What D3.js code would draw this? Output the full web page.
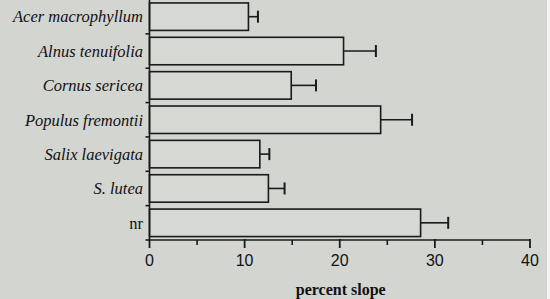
<!DOCTYPE html>
<html><head><meta charset="utf-8">
<script src="https://cdn.jsdelivr.net/npm/d3@7"></script>
<style>html,body{margin:0;padding:0;background:#d3d5d1;}svg{display:block;}</style>
</head><body>
<script>
const categories = ["Acer macrophyllum","Alnus tenuifolia","Cornus sericea","Populus fremontii","Salix laevigata","S. lutea","nr"];
const italic = [true,true,true,true,true,true,false];
const values = [10.4, 20.4, 14.9, 24.3, 11.6, 12.5, 28.5];
const errors = [1.0, 3.4, 2.6, 3.3, 1.0, 1.7, 2.9];
const xTicks = [0,10,20,30,40];
const minorTicks = [5,15,25,35];
const xLabel = "percent slope";

const W=550,H=299;
const svg=d3.select("body").append("svg").attr("width",W).attr("height",H);
svg.append("rect").attr("width",W).attr("height",H).attr("fill","#d3d5d1");
svg.append("rect").attr("x",547).attr("width",3).attr("height",H).attr("fill","#f4f4f4");

const x=d3.scaleLinear().domain([0,40]).range([149.5,530]);
const y=d3.scaleBand().domain(categories).range([-0.5,240]).paddingInner(0.2).paddingOuter(0.1);
const stroke="#1a1a1a";

// bars
svg.selectAll(".bar").data(categories).join("rect")
  .attr("x",x(0)).attr("y",d=>y(d)).attr("height",y.bandwidth())
  .attr("width",(d,i)=>x(values[i])-x(0))
  .attr("fill","#d6d8d4").attr("stroke",stroke).attr("stroke-width",1.6);
// error bars
const eb=svg.selectAll(".eb").data(categories).join("g");
eb.append("line").attr("x1",(d,i)=>x(values[i])).attr("x2",(d,i)=>x(values[i]+errors[i]))
  .attr("y1",d=>y(d)+y.bandwidth()/2).attr("y2",d=>y(d)+y.bandwidth()/2)
  .attr("stroke",stroke).attr("stroke-width",1.6);
eb.append("line").attr("x1",(d,i)=>x(values[i]+errors[i])).attr("x2",(d,i)=>x(values[i]+errors[i]))
  .attr("y1",d=>y(d)+y.bandwidth()/2-6).attr("y2",d=>y(d)+y.bandwidth()/2+6)
  .attr("stroke",stroke).attr("stroke-width",2);

// y axis line + boundary ticks
svg.append("line").attr("x1",x(0)).attr("x2",x(0)).attr("y1",0).attr("y2",240).attr("stroke",stroke).attr("stroke-width",1.6);
const step=y.step();
const bounds=categories.map((d,i)=>i).concat([categories.length]).slice(1);
svg.selectAll(".yt").data(bounds).join("line")
  .attr("x1",x(0)-4).attr("x2",x(0))
  .attr("y1",i=>y(categories[0])-y.step()*y.paddingInner()/2+i*step)
  .attr("y2",i=>y(categories[0])-y.step()*y.paddingInner()/2+i*step)
  .attr("stroke",stroke).attr("stroke-width",1.6);

// category labels
svg.selectAll(".lab").data(categories).join("text")
  .attr("x",143).attr("y",d=>y(d)+y.bandwidth()/2).attr("dy","0.35em")
  .attr("text-anchor","end").attr("font-family","Liberation Serif, serif")
  .attr("font-size",16.5).attr("font-style",(d,i)=>italic[i]?"italic":"normal")
  .attr("fill","#111").text(d=>d);

// x axis
const xa=svg.append("g").attr("transform","translate(0,240)");
xa.append("line").attr("x1",x(0)).attr("x2",x(40)).attr("stroke",stroke).attr("stroke-width",1.6);
xa.selectAll(".mt").data(xTicks).join("line").attr("x1",d=>x(d)).attr("x2",d=>x(d)).attr("y1",-1).attr("y2",8).attr("stroke",stroke).attr("stroke-width",1.8);
xa.selectAll(".nt").data(minorTicks).join("line").attr("x1",d=>x(d)).attr("x2",d=>x(d)).attr("y1",0).attr("y2",5).attr("stroke",stroke).attr("stroke-width",1.6);
xa.selectAll(".tl").data(xTicks).join("text").attr("x",d=>x(d)).attr("y",25.5)
  .attr("text-anchor","middle").attr("font-family","Liberation Sans, Arial, sans-serif").attr("font-size",16).attr("fill","#111").text(d=>d);

svg.append("text").attr("x",x(20)+1).attr("y",295).attr("text-anchor","middle")
  .attr("font-family","Liberation Serif, serif").attr("font-weight","bold").attr("font-size",16).attr("fill","#111").text(xLabel);
</script>
</body></html>
